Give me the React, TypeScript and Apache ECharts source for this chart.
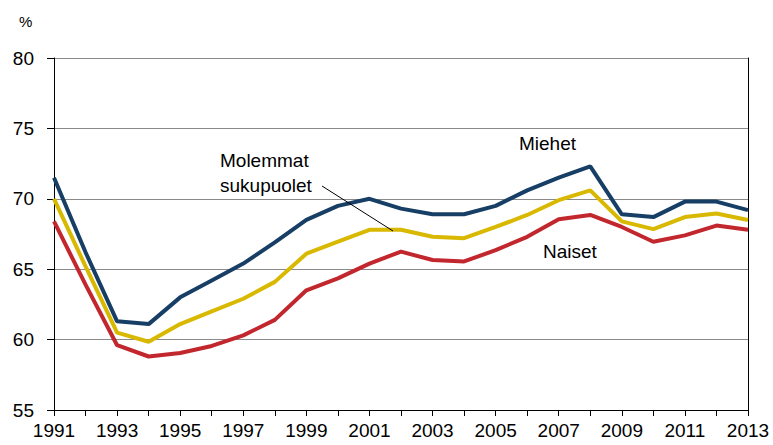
import React, { useEffect, useRef } from "react";
import * as echarts from "echarts";

const years = [
  "1991", "1992", "1993", "1994", "1995", "1996", "1997", "1998", "1999", "2000",
  "2001", "2002", "2003", "2004", "2005", "2006", "2007", "2008", "2009", "2010",
  "2011", "2012", "2013",
];
const miehet = [71.5, 66.2, 61.3, 61.1, 63.0, 64.2, 65.4, 66.9, 68.5, 69.5, 70.0, 69.3, 68.9, 68.9, 69.5, 70.6, 71.5, 72.3, 68.9, 68.7, 69.8, 69.8, 69.2];
const molemmat = [70.0, 65.2, 60.5, 59.85, 61.1, 62.0, 62.9, 64.1, 66.1, 66.95, 67.8, 67.8, 67.3, 67.2, 68.0, 68.85, 69.9, 70.6, 68.4, 67.85, 68.7, 68.95, 68.5];
const naiset = [68.4, 63.9, 59.6, 58.8, 59.05, 59.55, 60.3, 61.4, 63.5, 64.35, 65.4, 66.25, 65.65, 65.55, 66.35, 67.3, 68.55, 68.85, 68.0, 66.95, 67.4, 68.1, 67.8];
const yTicks = { min: 55, max: 80, interval: 5 };

const FONT = "'Liberation Sans', Arial, sans-serif";

export default function App() {
  const ref = useRef<HTMLDivElement>(null);
  useEffect(() => {
    document.body.style.margin = "0";
    const chart = echarts.init(ref.current!, null, { renderer: "svg" });
    const lineSeries = (name: string, data: number[], color: string) => ({
      name,
      type: "line",
      data,
      symbol: "none",
      lineStyle: { color, width: 4 },
      z: 3,
    });
    chart.setOption({
      animation: false,
      backgroundColor: "#fff",
      textStyle: { fontFamily: FONT },
      grid: { left: 54, right: 25, top: 58, bottom: 35 },
      xAxis: {
        type: "category",
        data: years,
        boundaryGap: false,
        axisLine: { lineStyle: { color: "#000", width: 1 } },
        axisTick: { show: true, interval: 0, length: 6, lineStyle: { color: "#000" } },
        axisLabel: { interval: 1, color: "#000", fontSize: 19, fontFamily: FONT, margin: 11 },
        splitLine: { show: false },
      },
      yAxis: [
        {
          type: "value",
          min: yTicks.min,
          max: yTicks.max,
          interval: yTicks.interval,
          axisLine: { show: true, lineStyle: { color: "#000", width: 1 } },
          axisTick: { show: true, length: 7, lineStyle: { color: "#000" } },
          axisLabel: { color: "#000", fontSize: 19, fontFamily: FONT, margin: 20 },
          splitLine: { show: true, lineStyle: { color: "#8a8a8a", width: 1 } },
        },
        {
          type: "value",
          position: "right",
          min: yTicks.min,
          max: yTicks.max,
          interval: yTicks.interval,
          axisLine: { show: true, lineStyle: { color: "#000", width: 1 } },
          axisTick: { show: false },
          axisLabel: { show: false },
          splitLine: { show: false },
        },
      ],
      series: [
        lineSeries("Naiset", naiset, "#c1272d"),
        lineSeries("Molemmat sukupuolet", molemmat, "#d9b800"),
        lineSeries("Miehet", miehet, "#173f66"),
      ],
      graphic: [
        { type: "text", left: 19, top: 14, style: { text: "%", fontSize: 15, fontFamily: FONT, fill: "#000" } },
        { type: "text", x: 519, y: 143, style: { text: "Miehet", fontSize: 19, fontFamily: FONT, fill: "#000", verticalAlign: "middle" } },
        { type: "text", x: 543, y: 251, style: { text: "Naiset", fontSize: 19, fontFamily: FONT, fill: "#000", verticalAlign: "middle" } },
        { type: "text", x: 220, y: 160, style: { text: "Molemmat", fontSize: 19, fontFamily: FONT, fill: "#000", verticalAlign: "middle" } },
        { type: "text", x: 220, y: 185, style: { text: "sukupuolet", fontSize: 19, fontFamily: FONT, fill: "#000", verticalAlign: "middle" } },
        { type: "line", shape: { x1: 322, y1: 186, x2: 393, y2: 231 }, style: { stroke: "#000", lineWidth: 1 }, z: 10 },
      ],
    });
    return () => chart.dispose();
  }, []);
  return <div ref={ref} style={{ width: 773, height: 445 }} />;
}
